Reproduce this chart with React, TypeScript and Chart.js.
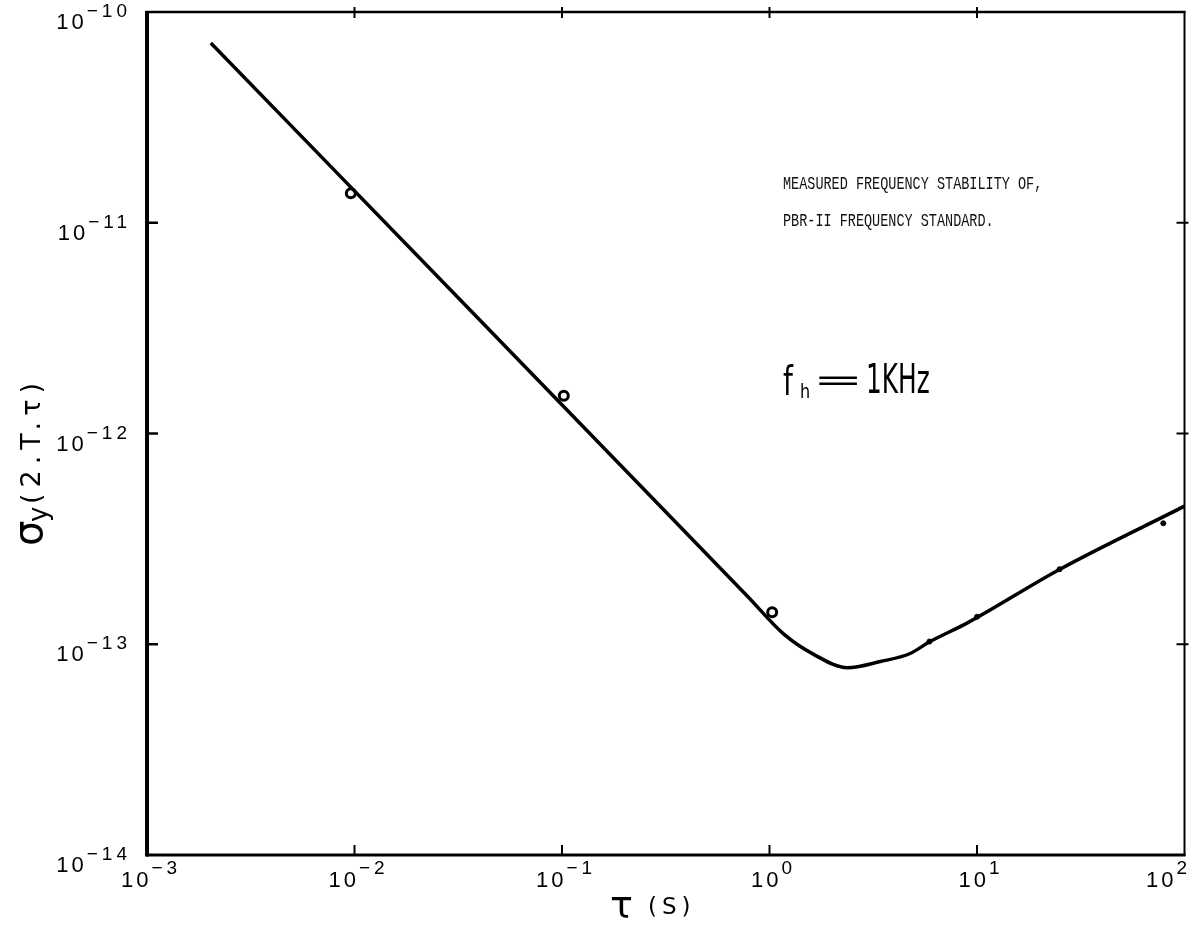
import { useEffect, useRef } from "react";
import { Chart, registerables } from "chart.js";

Chart.register(...registerables);

// Smoothed stability curve (tau in seconds, sigma_y dimensionless)
const fitTau = [2.03e-3, 3.16e-2, 9.57e-2, 0.783, 1.18, 1.64, 2.37, 3.42, 4.76, 5.94, 8.95, 25.1, 100];
const fitSigma = [7.13e-11, 4.41e-12, 1.43e-12, 1.69e-13, 1.11e-13, 8.93e-14, 7.74e-14, 8.28e-14, 9.04e-14, 1.03e-13, 1.26e-13, 2.27e-13, 4.52e-13];

// Measured points drawn as open circles
const circleTau = [9.6e-3, 0.102, 1.03];
const circleSigma = [1.38e-11, 1.51e-12, 1.42e-13];

// Measured points drawn as small marks on the curve
const markTau = [5.9, 10, 25, 79];
const markSigma = [1.03e-13, 1.35e-13, 2.27e-13, 3.75e-13];

// Axis decades
const xExponents = [-3, -2, -1, 0, 1, 2];
const yExponents = [-10, -11, -12, -13, -14];

const titleLines = ["MEASURED FREQUENCY STABILITY OF,", "PBR-II FREQUENCY STANDARD."];

const W = 1192;
const H = 928;

function expText(exp: number) {
  return exp < 0 ? "\u2212" + String(-exp) : String(exp);
}

const paperPlugin = {
  id: "paperAnnotations",
  afterDraw(chart: any) {
    const { ctx, chartArea: a, scales } = chart;
    const xs = scales.x;
    const ys = scales.y;
    const c = ctx as any;
    ctx.save();
    ctx.strokeStyle = "#000";
    ctx.fillStyle = "#000";
    ctx.lineCap = "butt";

    const seg = (x1: number, y1: number, x2: number, y2: number, w: number) => {
      ctx.lineWidth = w;
      ctx.beginPath();
      ctx.moveTo(x1, y1);
      ctx.lineTo(x2, y2);
      ctx.stroke();
    };

    // frame
    seg(a.left, a.top - 1, a.left, a.bottom + 1.5, 4);
    seg(a.left - 1, a.bottom, a.right + 1, a.bottom, 3);
    seg(a.left - 1, a.top, a.right + 1, a.top, 2.5);
    seg(a.right, a.top - 1, a.right, a.bottom + 1, 2);

    // decade ticks
    for (const e of xExponents.slice(1, -1)) {
      const px = xs.getPixelForValue(Math.pow(10, e));
      seg(px, a.bottom, px, a.bottom - 10, 2);
      seg(px, a.top - 5, px, a.top + 6, 2);
    }
    for (const e of yExponents.slice(1, -1)) {
      const py = ys.getPixelForValue(Math.pow(10, e));
      seg(a.left, py, a.left + 11, py, 2.5);
      seg(a.right - 8, py, a.right + 4, py, 2);
    }

    const baseFont = "22px 'Liberation Sans', Arial, sans-serif";
    const expFont = "19px 'Liberation Sans', Arial, sans-serif";
    const setBase = () => { ctx.font = baseFont; c.letterSpacing = "3px"; };
    const setExp = () => { ctx.font = expFont; c.letterSpacing = "4px"; };
    ctx.textBaseline = "alphabetic";
    ctx.textAlign = "left";

    // y tick labels
    for (const e of yExponents) {
      const py = ys.getPixelForValue(Math.pow(10, e));
      const sup = expText(e);
      setExp();
      const ew = ctx.measureText(sup).width;
      const right = a.left - 16;
      ctx.fillText(sup, right - ew, py + 5);
      setBase();
      const bw = ctx.measureText("10").width;
      ctx.fillText("10", right - ew - bw, py + 17);
    }

    // x tick labels
    for (const e of xExponents) {
      const px = xs.getPixelForValue(Math.pow(10, e));
      const sup = expText(e);
      setBase();
      const bw = ctx.measureText("10").width;
      setExp();
      const ew = ctx.measureText(sup).width;
      let left = px - (bw + ew) / 2 + 4;
      if (left + bw + ew > W - 1) left = W - 1 - bw - ew;
      setBase();
      ctx.fillText("10", left, a.bottom + 32);
      setExp();
      ctx.fillText(sup, left + bw, a.bottom + 19);
    }
    c.letterSpacing = "0px";

    // x axis title
    ctx.font = "38px 'DejaVu Sans', sans-serif";
    ctx.fillText("\u03c4", 610, 918);
    ctx.font = "23px 'DejaVu Sans', sans-serif";
    c.letterSpacing = "5px";
    ctx.fillText("(S)", 648, 914);
    c.letterSpacing = "0px";

    // y axis title
    ctx.save();
    ctx.translate(42, 442);
    ctx.rotate(-Math.PI / 2);
    ctx.font = "40px 'DejaVu Sans', sans-serif";
    ctx.fillText("\u03c3", -104, 0);
    ctx.font = "26px 'DejaVu Sans', sans-serif";
    ctx.fillText("y", -80, 5);
    ctx.font = "27px 'DejaVu Sans', sans-serif";
    c.letterSpacing = "6px";
    ctx.fillText("(2.T.\u03c4)", -62, -2);
    c.letterSpacing = "0px";
    ctx.restore();

    // typed caption
    ctx.fillStyle = "#111";
    ctx.font = "13.5px 'Liberation Mono', 'DejaVu Sans Mono', monospace";
    ctx.save();
    ctx.translate(783, 189);
    ctx.scale(1, 1.3);
    ctx.fillText(titleLines[0], 0, 0);
    ctx.restore();
    ctx.save();
    ctx.translate(783, 226);
    ctx.scale(1, 1.3);
    ctx.fillText(titleLines[1], 0, 0);
    ctx.restore();

    // handwritten cutoff-frequency note
    ctx.fillStyle = "#000";
    const note = "40px 'DejaVu Sans', sans-serif";
    ctx.font = note;
    ctx.save();
    ctx.translate(783, 395);
    ctx.scale(0.7, 1);
    ctx.fillText("f", 0, 0);
    ctx.restore();
    ctx.font = "20px 'DejaVu Sans', sans-serif";
    ctx.save();
    ctx.translate(800, 398);
    ctx.scale(0.8, 1);
    ctx.fillText("h", 0, 0);
    ctx.restore();
    ctx.font = "30px 'DejaVu Sans', sans-serif";
    ctx.save();
    ctx.translate(813, 390);
    ctx.scale(2.0, 1);
    ctx.fillText("=", 0, 0);
    ctx.restore();
    ctx.font = note;
    ctx.save();
    ctx.translate(866, 393);
    ctx.scale(0.62, 1);
    ctx.fillText("1KHz", 0, 0);
    ctx.restore();

    ctx.restore();
  },
};

export default function App() {
  const ref = useRef<HTMLCanvasElement | null>(null);

  useEffect(() => {
    const canvas = ref.current;
    if (!canvas) return;
    const chart = new Chart(canvas, {
      type: "line",
      data: {
        datasets: [
          {
            label: "fit",
            data: fitTau.map((t, i) => ({ x: t, y: fitSigma[i] })),
            borderColor: "#000",
            borderWidth: 3.5,
            pointRadius: 0,
            cubicInterpolationMode: "monotone",
            fill: false,
          },
          {
            label: "measured",
            data: circleTau.map((t, i) => ({ x: t, y: circleSigma[i] })),
            showLine: false,
            pointStyle: "circle",
            pointRadius: 4.5,
            pointBorderWidth: 3,
            pointBorderColor: "#000",
            pointBackgroundColor: "#fff",
          },
          {
            label: "marks",
            data: markTau.map((t, i) => ({ x: t, y: markSigma[i] })),
            showLine: false,
            pointStyle: "circle",
            pointRadius: 2.5,
            pointBorderWidth: 1,
            pointBorderColor: "#000",
            pointBackgroundColor: "#000",
          },
        ],
      },
      options: {
        responsive: false,
        animation: false,
        layout: { padding: { left: 147, right: 4, top: 12, bottom: 73 } },
        plugins: {
          legend: { display: false },
          title: { display: false },
          tooltip: { enabled: false },
        },
        scales: {
          x: { type: "logarithmic", min: 1e-3, max: 100, display: false },
          y: { type: "logarithmic", min: 1e-14, max: 1e-10, display: false },
        },
      },
      plugins: [paperPlugin],
    });
    return () => chart.destroy();
  }, []);

  return (
    <div style={{ position: "fixed", left: 0, top: 0, width: W, height: H, background: "#fff" }}>
      <canvas ref={ref} width={W} height={H} />
    </div>
  );
}
